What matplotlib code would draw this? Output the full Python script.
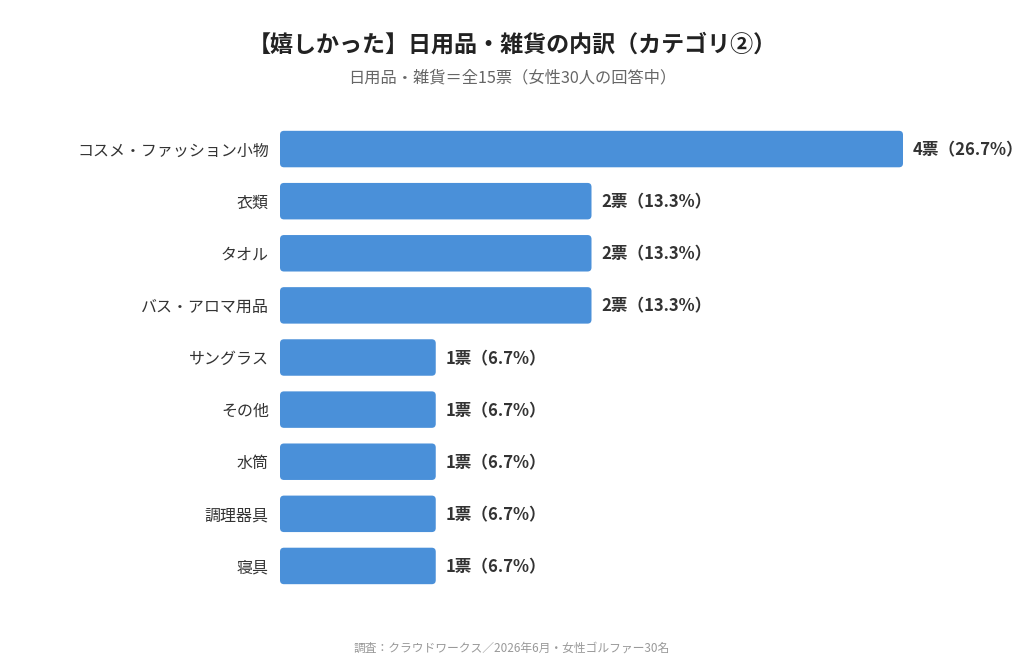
import matplotlib
matplotlib.use("Agg")
import matplotlib.pyplot as plt
from matplotlib.patches import FancyBboxPatch

plt.rcParams["font.family"] = ["Noto Sans CJK JP", "DejaVu Sans"]

categories = ["コスメ・ファッション小物", "衣類", "タオル", "バス・アロマ用品",
              "サングラス", "その他", "水筒", "調理器具", "寝具"]
votes = [4, 2, 2, 2, 1, 1, 1, 1, 1]
pcts = [26.7, 13.3, 13.3, 13.3, 6.7, 6.7, 6.7, 6.7, 6.7]

BAR = "#4a90d9"
TXT = "#333333"

W, H = 1024, 670
fig = plt.figure(figsize=(W / 100, H / 100), dpi=100)
# axes placed so that 0..4 votes spans x=280..903 px
ax = fig.add_axes([280 / W, 1 - 592 / H, 623 / W, 469 / H])
ax.set_xlim(0, 4)
ax.set_ylim(len(categories) - 0.5, -0.5)

ys = list(range(len(categories)))
bars = ax.barh(ys, votes, height=0.7, color=BAR)

# swap plain bars for rounded ones (radius ~4px)
px_x = 4 / 155.75
px_y = 4 / 52.1
for b in bars:
    x0, y0 = b.get_xy()
    p = FancyBboxPatch((x0, y0), b.get_width(), b.get_height(),
                       boxstyle=f"round,pad=0,rounding_size={px_x}",
                       mutation_aspect=px_y / px_x,
                       facecolor=BAR, edgecolor="none")
    b.set_visible(False)
    ax.add_patch(p)

for y, v, p in zip(ys, votes, pcts):
    ax.annotate(f"{v}票（{p:.1f}%）", (v, y), xytext=(7, -1),
                textcoords="offset points", va="center", ha="left",
                fontsize=12, fontweight="bold", color=TXT, annotation_clip=False)

ax.set_yticks(ys)
ax.set_yticklabels(categories, fontsize=11.5, color=TXT)
ax.tick_params(axis="y", length=0, pad=8)
ax.set_xticks([])
for s in ax.spines.values():
    s.set_visible(False)

fig.text(0.5, 1 - 45 / H, "【嬉しかった】日用品・雑貨の内訳（カテゴリ②）",
         ha="center", va="center", fontsize=16.6, fontweight="bold", color="#222222")
fig.text(0.5, 1 - 78 / H, "日用品・雑貨＝全15票（女性30人の回答中）",
         ha="center", va="center", fontsize=11.7, color="#666666")
fig.text(0.5, 1 - 648 / H, "調査：クラウドワークス／2026年6月・女性ゴルファー30名",
         ha="center", va="center", fontsize=8.5, color="#999999")

fig.savefig("out.png", dpi=100)
